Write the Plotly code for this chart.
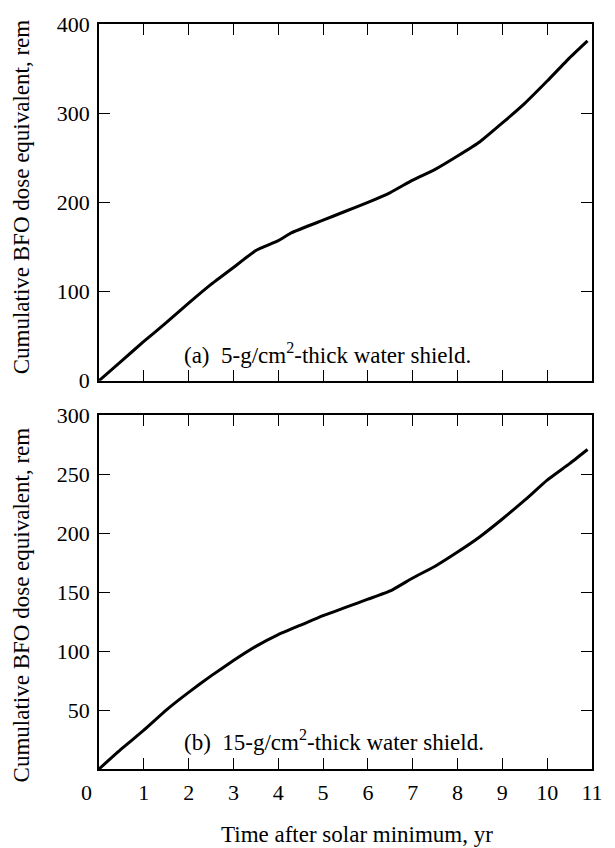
import plotly.graph_objects as go
from plotly.subplots import make_subplots

# Time after solar minimum, yr
years_a = [0.0, 0.5, 1.0, 1.5, 2.0, 2.5, 3.0, 3.5, 4.0, 4.3, 5.0, 5.5, 6.0, 6.5,
           7.0, 7.5, 8.0, 8.5, 9.0, 9.5, 10.0, 10.5, 10.9]
# Cumulative BFO dose equivalent, 5 g/cm2 water shield (rem)
dose_a = [0, 22, 44, 65, 87, 108, 127, 146, 157, 166, 180, 190, 200, 211,
          225, 237, 252, 268, 289, 311, 336, 362, 381]

years_b = [0.0, 0.5, 1.0, 1.5, 2.0, 2.5, 3.0, 3.5, 4.0, 4.5, 5.0, 5.5, 6.0, 6.5,
           7.0, 7.5, 8.0, 8.5, 9.0, 9.5, 10.0, 10.5, 10.9]
# Cumulative BFO dose equivalent, 15 g/cm2 water shield (rem)
dose_b = [0, 17, 33, 50, 65, 79, 92, 104, 114, 122, 130, 137, 144, 151,
          162, 172, 184, 197, 212, 228, 245, 259, 271]

x_ticks = [1, 2, 3, 4, 5, 6, 7, 8, 9, 10]
x_labels_bottom = [1, 2, 3, 4, 5, 6, 7, 8, 9, 10, 11]
y_ticks_a = [0, 100, 200, 300, 400]
y_ticks_b = [50, 100, 150, 200, 250, 300]

label_a = "(a)  5-g/cm<sup>2</sup>-thick water shield."
label_b = "(b)  15-g/cm<sup>2</sup>-thick water shield."
y_title = "Cumulative BFO dose equivalent, rem"
x_title = "Time after solar minimum, yr"

FONT = "Liberation Serif, Times New Roman, serif"
W, H = 615, 848
ML, MR, MT, MB = 99, 14, 15, 79
plot_h = H - MT - MB
plot_w = W - ML - MR

fig = make_subplots(rows=2, cols=1, vertical_spacing=0.05)

line_style = dict(color="black", width=3, shape="spline", smoothing=0.4)
fig.add_trace(go.Scatter(x=years_a, y=dose_a, mode="lines", line=line_style,
                         showlegend=False), row=1, col=1)
fig.add_trace(go.Scatter(x=years_b, y=dose_b, mode="lines", line=line_style,
                         showlegend=False), row=2, col=1)

axis_common = dict(showline=True, linecolor="black", linewidth=1.5, mirror="ticks",
                   ticks="inside", ticklen=11, tickwidth=1.3, tickcolor="black",
                   showgrid=False, zeroline=False,
                   tickfont=dict(family=FONT, size=22, color="black"))

top_bottom_px = 376
bot_top_px = 411
dom_top = [(H - MB - top_bottom_px) / plot_h, 1.0]
dom_bot = [0.0, (H - MB - bot_top_px) / plot_h]

fig.update_layout(
    xaxis=dict(range=[0, 11], tickvals=x_ticks, showticklabels=False, **axis_common),
    yaxis=dict(range=[0, 400], tickvals=y_ticks_a, domain=dom_top,
               ticklabelstandoff=3, **axis_common),
    xaxis2=dict(range=[0, 11], tickvals=x_labels_bottom,
                ticktext=[str(v) for v in x_labels_bottom],
                ticklabelstandoff=3, ticklabeloverflow="allow", **axis_common),
    yaxis2=dict(range=[0, 300], tickvals=y_ticks_b, domain=dom_bot,
                ticklabelstandoff=3, **axis_common),
)

ann_font = dict(family=FONT, size=23, color="black")
annotations = [
    dict(x=1.86, y=31, xref="x", yref="y", text=label_a, showarrow=False,
         xanchor="left", yanchor="middle", font=ann_font),
    dict(x=1.86, y=24, xref="x2", yref="y2", text=label_b, showarrow=False,
         xanchor="left", yanchor="middle", font=ann_font),
    # origin label sits left of the axis corner
    dict(x=(86 - ML) / plot_w, y=-(793 - (H - MB)) / plot_h,
         xref="paper", yref="paper", text="0", showarrow=False,
         xanchor="center", yanchor="middle",
         font=dict(family=FONT, size=22, color="black")),
    dict(x=(362 - ML) / plot_w, y=-(835 - (H - MB)) / plot_h,
         xref="paper", yref="paper", text=x_title, showarrow=False,
         xanchor="center", yanchor="middle", font=ann_font),
    dict(x=(21 - ML) / plot_w, y=(H - MB - 190) / plot_h,
         xref="paper", yref="paper", text=y_title, showarrow=False, textangle=-90,
         xanchor="center", yanchor="middle", font=ann_font),
    dict(x=(21 - ML) / plot_w, y=(H - MB - 603) / plot_h,
         xref="paper", yref="paper", text=y_title, showarrow=False, textangle=-90,
         xanchor="center", yanchor="middle", font=ann_font),
]

fig.update_layout(
    width=W, height=H,
    margin=dict(l=ML, r=MR, t=MT, b=MB),
    paper_bgcolor="white", plot_bgcolor="white",
    annotations=annotations,
    font=dict(family=FONT, color="black"),
)

fig.write_html("out.html")
